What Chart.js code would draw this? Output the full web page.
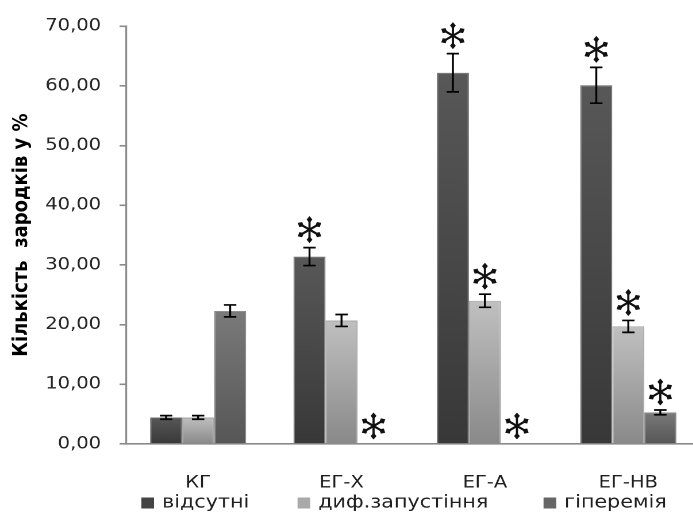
<!DOCTYPE html>
<html lang="uk">
<head>
<meta charset="utf-8">
<title>Кількість зародків у %</title>
<script src="https://cdn.jsdelivr.net/npm/chart.js@4/dist/chart.umd.min.js"></script>
<style>
  html, body { margin: 0; padding: 0; background: #fff; overflow: hidden; }
  #wrap { position: absolute; left: 0; top: 0; width: 700px; height: 515px; }
  #chart { display: block; width: 700px; height: 515px; }
</style>
</head>
<body>
<div id="wrap"><canvas id="chart" width="609" height="515" style="width:700px;height:515px"></canvas></div>
<script>
// Groups and series
const categories = ['КГ', 'ЕГ-Х', 'ЕГ-А', 'ЕГ-НВ'];
const seriesNames = ['відсутні', 'диф.запустіння', 'гіперемія'];

const absentValues  = [4.45, 31.4, 62.2, 60.1];
const absentErrors  = [0.3, 1.5, 3.2, 3.0];
const absentMarked  = [false, true, true, true];

const diffuseValues = [4.45, 20.7, 24.0, 19.7];
const diffuseErrors = [0.3, 1.0, 1.1, 1.0];
const diffuseMarked = [false, false, true, true];

const hyperValues   = [22.3, 0, 0, 5.3];
const hyperErrors   = [1.0, 0, 0, 0.4];
const hyperMarked   = [false, true, true, true];

const yTicks = [0, 10, 20, 30, 40, 50, 60, 70];

// The canvas is drawn 609 px wide and shown 700 px wide
const STRETCH = 700 / 609;
const FONT = '"DejaVu Sans", Verdana, sans-serif';

// Vertical gradient running from the top of each bar to the baseline
function barFill(topColor, bottomColor) {
  return (ctx) => {
    const chart = ctx.chart;
    const y = chart.scales && chart.scales.y;
    if (!y || ctx.type !== 'data' || !chart.chartArea) return bottomColor;
    const yt = y.getPixelForValue(ctx.raw);
    const yb = y.getPixelForValue(0);
    if (!isFinite(yt) || !isFinite(yb) || Math.abs(yb - yt) < 1) return bottomColor;
    const g = chart.ctx.createLinearGradient(0, yt, 0, yb);
    g.addColorStop(0, topColor);
    g.addColorStop(1, bottomColor);
    return g;
  };
}

const datasets = [
  { label: seriesNames[0], data: absentValues,  errors: absentErrors,  marked: absentMarked,
    backgroundColor: barFill('#585858', '#383838'), borderColor: '#6e6e6e', legendColor: '#444444' },
  { label: seriesNames[1], data: diffuseValues, errors: diffuseErrors, marked: diffuseMarked,
    backgroundColor: barFill('#c0c0c0', '#898989'), borderColor: '#a6a6a6', legendColor: '#a9a9a9' },
  { label: seriesNames[2], data: hyperValues,   errors: hyperErrors,   marked: hyperMarked,
    backgroundColor: barFill('#7a7a7a', '#565656'), borderColor: '#858585', legendColor: '#666666' }
].map(d => Object.assign(d, { borderWidth: 1, categoryPercentage: 0.67, barPercentage: 1.0 }));

// Six-spoked asterisk with diamond tips
function drawAsterisk(ctx, cx, cy, r) {
  ctx.save();
  ctx.translate(cx, cy);
  ctx.scale(1 / STRETCH, 1);
  ctx.fillStyle = '#111';
  ctx.strokeStyle = '#111';
  ctx.lineWidth = 2.2;
  ctx.lineCap = 'round';
  for (const deg of [90, 30, -30, -90, -150, 150]) {
    const a = deg * Math.PI / 180;
    const ux = Math.cos(a), uy = -Math.sin(a);
    const px = -uy, py = ux;
    ctx.beginPath();
    ctx.moveTo(0, 0);
    ctx.lineTo(ux * r * 0.62, uy * r * 0.62);
    ctx.stroke();
    const r0 = r * 0.48, r1 = r * 0.75, r2 = r;
    const w = 2.9;
    ctx.beginPath();
    ctx.moveTo(ux * r0, uy * r0);
    ctx.lineTo(ux * r1 + px * w, uy * r1 + py * w);
    ctx.lineTo(ux * r2, uy * r2);
    ctx.lineTo(ux * r1 - px * w, uy * r1 - py * w);
    ctx.closePath();
    ctx.fill();
  }
  ctx.restore();
}

// Error bars and significance marks over the bars
const errorBarsAndMarks = {
  id: 'errorBarsAndMarks',
  afterDatasetsDraw(chart) {
    const ctx = chart.ctx;
    const y = chart.scales.y;
    const capHalf = 6.2 / STRETCH;
    chart.data.datasets.forEach((ds, i) => {
      const meta = chart.getDatasetMeta(i);
      meta.data.forEach((bar, j) => {
        const v = ds.data[j];
        const e = ds.errors[j];
        let top = y.getPixelForValue(v);
        if (e > 0) {
          const yHi = y.getPixelForValue(v + e);
          const yLo = y.getPixelForValue(v - e);
          ctx.save();
          ctx.strokeStyle = '#000';
          ctx.lineWidth = 1.7;
          ctx.beginPath();
          ctx.moveTo(bar.x, yHi); ctx.lineTo(bar.x, yLo);
          ctx.moveTo(bar.x - capHalf, yHi); ctx.lineTo(bar.x + capHalf, yHi);
          ctx.moveTo(bar.x - capHalf, yLo); ctx.lineTo(bar.x + capHalf, yLo);
          ctx.stroke();
          ctx.restore();
          top = yHi;
        }
        if (ds.marked[j]) {
          drawAsterisk(ctx, bar.x, top - 18, 13.5);
        }
      });
    });
  }
};

// Single-row legend under the category labels
const bottomLegend = {
  id: 'bottomLegend',
  afterDraw(chart) {
    const ctx = chart.ctx;
    const area = chart.chartArea;
    const box = 11, textGap = 7, itemGaps = [42, 48];
    const cy = chart.height - 12;
    ctx.save();
    ctx.font = '18px ' + FONT;
    ctx.textBaseline = 'middle';
    ctx.textAlign = 'left';
    let x = area.left + 13;
    chart.data.datasets.forEach((ds, i) => {
      ctx.fillStyle = ds.legendColor;
      ctx.fillRect(x, cy - box / 2, box, box);
      ctx.fillStyle = '#1e1e1e';
      ctx.fillText(ds.label, x + box + textGap, cy);
      x += box + textGap + ctx.measureText(ds.label).width + (itemGaps[i] || 0);
    });
    ctx.restore();
  }
};

new Chart(document.getElementById('chart'), {
  type: 'bar',
  data: { labels: categories, datasets },
  plugins: [errorBarsAndMarks, bottomLegend],
  options: {
    responsive: false,
    animation: false,
    devicePixelRatio: 2,
    layout: { padding: { top: 24, right: 0, bottom: 0, left: 0 } },
    plugins: {
      tooltip: { enabled: false },
      legend: { display: false }
    },
    scales: {
      x: {
        grid: { display: false },
        border: { color: '#8a8a8a', width: 1.6 },
        ticks: { font: { family: FONT, size: 17 }, color: '#1e1e1e', padding: 21, maxRotation: 0 },
        afterFit: (scale) => { scale.height = 71; }
      },
      y: {
        min: 0,
        max: 70,
        afterBuildTicks: (scale) => { scale.ticks = yTicks.map(v => ({ value: v })); },
        ticks: {
          font: { family: FONT, size: 17 },
          color: '#262626',
          padding: 16,
          callback: (v) => Number(v).toFixed(2).replace('.', ',')
        },
        grid: { drawOnChartArea: false, tickLength: 6, color: '#8a8a8a', lineWidth: 1.6 },
        border: { color: '#8a8a8a', width: 1.6 },
        title: {
          display: true,
          text: 'Кількість  зародків у %',
          font: { family: FONT, size: 18, weight: 'bold' },
          color: '#000',
          padding: { top: 8, bottom: 0 }
        },
        afterFit: (scale) => { scale.width = 110; }
      }
    }
  }
});
</script>
</body>
</html>
